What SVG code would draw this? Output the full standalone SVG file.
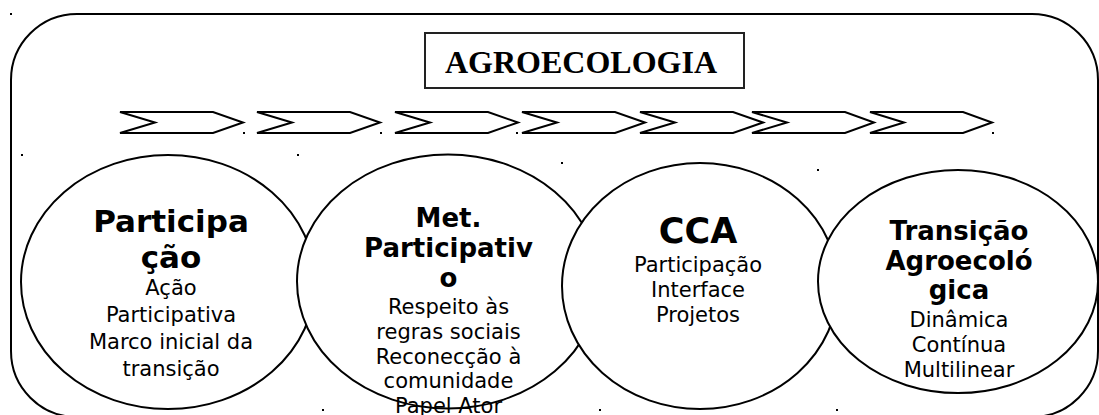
<svg xmlns="http://www.w3.org/2000/svg" width="1099" height="415" viewBox="0 0 1099 415">
<style>
.frame{fill:#fff;stroke:#000;stroke-width:2}
.el{fill:#fff;stroke:#000;stroke-width:2}
.chev{fill:#fff;stroke:#000;stroke-width:2;stroke-linejoin:miter}
.t{font-family:"DejaVu Sans","Noto Sans",sans-serif;fill:#000;text-anchor:middle}
.b{font-weight:bold}
.r{font-size:21px}
.dot{fill:#000}
</style>
<rect width="1099" height="415" fill="#fff"/>
<g id="frame">
<rect class="frame" x="11" y="14" width="1087" height="403" rx="66" ry="66"/>
</g>
<g id="title">
<rect x="425" y="33" width="319" height="55" fill="#fff" stroke="#222" stroke-width="2"/>
<text x="581" y="73" font-family="'Liberation Serif','Times New Roman',serif" font-weight="bold" font-size="32" text-anchor="middle" fill="#000">AGROECOLOGIA</text>
</g>
<g id="connectors">
<polygon class="chev" points="120,112 213,112 243,122.5 213,133 120,133 155,122.5"/>
<polygon class="chev" points="257,112 350,112 380,122.5 350,133 257,133 292,122.5"/>
<polygon class="chev" points="395,112 488,112 518,122.5 488,133 395,133 430,122.5"/>
<polygon class="chev" points="522,112 615,112 645,122.5 615,133 522,133 557,122.5"/>
<polygon class="chev" points="640,112 733,112 763,122.5 733,133 640,133 675,122.5"/>
<polygon class="chev" points="752,112 845,112 874,122.5 845,133 752,133 787,122.5"/>
<polygon class="chev" points="870,112 963,112 992,122.5 963,133 870,133 904,122.5"/>
</g>
<g id="dots">
<rect class="dot" x="10" y="13" width="2" height="2"/>
<rect class="dot" x="21" y="154" width="2" height="2"/>
<rect class="dot" x="243" y="132" width="2" height="2"/>
<rect class="dot" x="297" y="154" width="2" height="2"/>
<rect class="dot" x="380" y="132" width="2" height="2"/>
<rect class="dot" x="516" y="132" width="2" height="2"/>
<rect class="dot" x="561" y="162" width="2" height="2"/>
<rect class="dot" x="817" y="169" width="2" height="2"/>
<rect class="dot" x="992" y="132" width="2" height="2"/>
<rect class="dot" x="322" y="409" width="2" height="2"/>
<rect class="dot" x="599" y="409" width="2" height="2"/>
<rect class="dot" x="836" y="409" width="2" height="2"/>
</g>
<g id="node-participacao">
<ellipse class="el" cx="168" cy="282" rx="147" ry="127"/>
<text class="t b" font-size="31" x="171" y="232">Participa</text>
<text class="t b" font-size="31" x="171" y="268">ção</text>
<text class="t r" x="171" y="295">Ação</text>
<text class="t r" x="171" y="322">Participativa</text>
<text class="t r" x="171" y="349">Marco inicial da</text>
<text class="t r" x="171" y="376">transição</text>
</g>
<g id="node-metodo">
<ellipse class="el" cx="448" cy="281.5" rx="151" ry="127"/>
<text class="t b" font-size="26" x="448.5" y="227">Met.</text>
<text class="t b" font-size="26" x="448.5" y="257">Participativ</text>
<text class="t b" font-size="26" x="448.5" y="287">o</text>
<text class="t r" x="448.5" y="314">Respeito às</text>
<text class="t r" x="448.5" y="339">regras sociais</text>
<text class="t r" x="448.5" y="363.5">Reconecção à</text>
<text class="t r" x="448.5" y="388">comunidade</text>
<text class="t r" x="448.5" y="413">Papel Ator</text>
</g>
<g id="node-cca">
<ellipse class="el" cx="700" cy="286" rx="138" ry="123"/>
<text class="t b" font-size="35" x="698" y="243">CCA</text>
<text class="t r" x="698" y="272">Participação</text>
<text class="t r" x="698" y="297">Interface</text>
<text class="t r" x="698" y="322">Projetos</text>
</g>
<g id="node-transicao">
<ellipse class="el" cx="958" cy="281.5" rx="140" ry="111.5"/>
<text class="t b" font-size="26" x="959" y="240">Transição</text>
<text class="t b" font-size="26" x="959" y="270">Agroecoló</text>
<text class="t b" font-size="26" x="959" y="299">gica</text>
<text class="t r" x="959" y="327">Dinâmica</text>
<text class="t r" x="959" y="352">Contínua</text>
<text class="t r" x="959" y="377">Multilinear</text>
</g>
</svg>
